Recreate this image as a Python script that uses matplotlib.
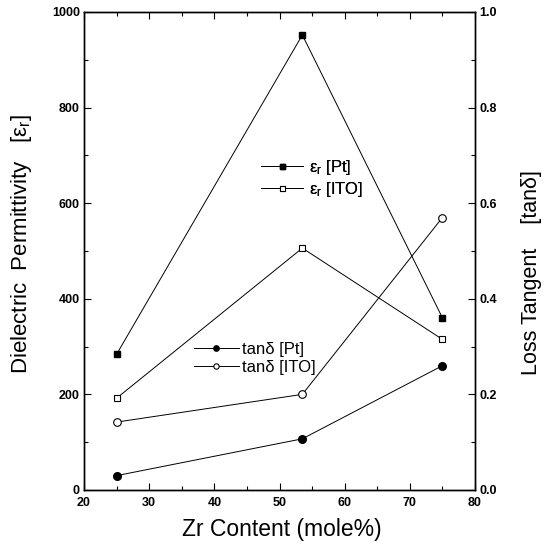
import matplotlib
matplotlib.use("Agg")
import matplotlib.pyplot as plt
from matplotlib.ticker import MultipleLocator

plt.rcParams['font.family'] = ['Liberation Sans', 'DejaVu Sans']
plt.rcParams['mathtext.default'] = 'regular'

# Zr content (mole%)
zr = [25, 53.5, 75]
# dielectric permittivity
eps_pt = [284, 952, 360]
eps_ito = [192, 506, 315]
# loss tangent
tan_pt = [0.03, 0.107, 0.26]
tan_ito = [0.142, 0.20, 0.57]

fig = plt.figure(figsize=(5.53, 5.45), dpi=100)
ax1 = fig.add_axes([0.152, 0.101, 0.707, 0.877])
ax2 = ax1.twinx()

lw = 0.7
h1, = ax1.plot(zr, eps_pt, '-', color='black', lw=lw, marker='s', ms=4.5,
               mfc='black', mec='black', label='ε$_r$ [Pt]')
h2, = ax1.plot(zr, eps_ito, '-', color='black', lw=lw, marker='s', ms=4.5,
               mfc='white', mec='black', mew=0.8, label='ε$_r$ [ITO]')
h3, = ax2.plot(zr, tan_pt, '-', color='black', lw=lw, marker='o', ms=5.5,
               mfc='black', mec='black', label='tanδ [Pt]')
h4, = ax2.plot(zr, tan_ito, '-', color='black', lw=lw, marker='o', ms=5.5,
               mfc='white', mec='black', mew=0.8, label='tanδ [ITO]')

ax1.set_xlim(20, 80)
ax1.set_ylim(0, 1000)
ax2.set_ylim(0, 1.0)

ax1.xaxis.set_major_locator(MultipleLocator(10))
ax1.xaxis.set_minor_locator(MultipleLocator(5))
ax1.yaxis.set_major_locator(MultipleLocator(200))
ax1.yaxis.set_minor_locator(MultipleLocator(100))
ax2.yaxis.set_major_locator(MultipleLocator(0.2))
ax2.yaxis.set_minor_locator(MultipleLocator(0.1))
ax2.yaxis.set_major_formatter(plt.FormatStrFormatter('%.1f'))

ax1.tick_params(which='both', direction='in', top=True, labelsize=9, width=0.8, pad=3)
ax1.tick_params(axis='x', pad=5)
ax1.tick_params(which='major', length=5)
ax1.tick_params(which='minor', length=3)
ax2.tick_params(which='both', direction='in', labelsize=9, width=0.8, pad=3)
ax2.tick_params(which='major', length=5)
ax2.tick_params(which='minor', length=3)
for lab in ax1.get_xticklabels() + ax1.get_yticklabels() + ax2.get_yticklabels():
    lab.set_fontweight('bold')

for ax in (ax1, ax2):
    for s in ax.spines.values():
        s.set_linewidth(1.0)

ax1.set_xlabel('Zr Content (mole%)', fontsize=16.5)
ax1.set_ylabel('Dielectric  Permittivity   [ε$_r$]', fontsize=16)
ax2.set_ylabel('Loss Tangent    [tanδ]', fontsize=15.5)
ax1.xaxis.set_label_coords(0.505, -0.058)
ax1.yaxis.set_label_coords(-0.128, 0.515)
ax2.yaxis.set_label_coords(1.118, 0.454)

leg1 = ax1.legend(handles=[h1, h2], loc='upper left', bbox_to_anchor=(0.453, 0.694),
                  frameon=False, fontsize=12, handlelength=2.5, handletextpad=0.35,
                  labelspacing=0.15, borderpad=0, borderaxespad=0, markerscale=0.8)
ax1.add_artist(leg1)
ax2.legend(handles=[h3, h4], loc='upper left', bbox_to_anchor=(0.280, 0.310),
           frameon=False, fontsize=12, handlelength=2.7, handletextpad=0.2,
           labelspacing=0.2, borderpad=0, borderaxespad=0, markerscale=0.7)

fig.savefig('out.png', dpi=100)
